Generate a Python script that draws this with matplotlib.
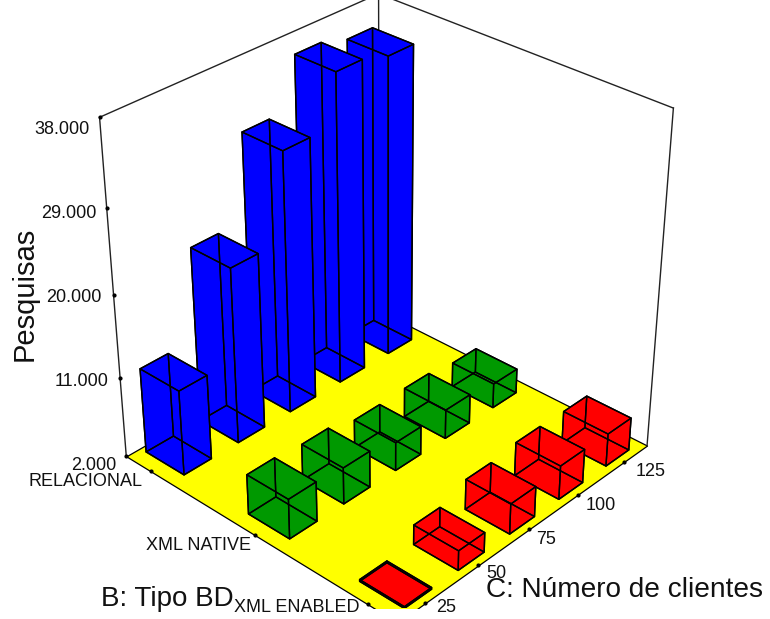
import numpy as np
import matplotlib
matplotlib.use("Agg")
import matplotlib.pyplot as plt
from mpl_toolkits.mplot3d.art3d import Poly3DCollection

plt.rcParams['font.family'] = ['Liberation Sans', 'DejaVu Sans']

# data
clientes = [25, 50, 75, 100, 125]
tipos = ['RELACIONAL', 'XML NATIVE', 'XML ENABLED']
relacional = [11500, 21500, 30800, 36200, 35300]
xml_native = [6450, 6100, 5200, 5300, 4800]
xml_enabled = [2200, 4200, 5400, 5800, 5700]
series = [relacional, xml_native, xml_enabled]
cores = ['#0000ff', '#009900', '#ff0000']
z_ticks = [2000, 11000, 20000, 29000, 38000]

# axis ranges
c0, c1 = 12.5, 137.5
b0, b1 = -0.25, 2.25
z0, z1 = 2000, 38000
bw_c, bw_b = 12.5, 0.38

fig = plt.figure(figsize=(7.70, 6.19), dpi=100)
ax = fig.add_axes([-0.0075, 0.018, 1, 1], projection='3d', computed_zorder=False)
ax.set_xlim(c0, c1, view_margin=0)
ax.set_ylim(b1, b0, view_margin=0)
ax.set_zlim(z0, z1, view_margin=0)
ax.set_box_aspect((1, 1, 1.03), zoom=1.06)
ax.set_proj_type('persp', focal_length=0.65)
ax.view_init(elev=32, azim=-137)
ax.set_axis_off()

# floor
floor = [[(c0, b0, z0), (c1, b0, z0), (c1, b1, z0), (c0, b1, z0)]]
ax.add_collection3d(Poly3DCollection(floor, facecolors='#ffff00', edgecolors='k',
                                     linewidths=0.9, zorder=1))

# frame
frame_k = dict(color='#222222', lw=1.0, zorder=2)
ax.plot([c0, c0], [b0, b0], [z0, z1], **frame_k)
ax.plot([c1, c1], [b0, b0], [z0, z1], **frame_k)
ax.plot([c1, c1], [b1, b1], [z0, z1], **frame_k)
ax.plot([c0, c1, c1], [b0, b0, b1], [z1, z1, z1], **frame_k)

# tick dots
ax.plot([c0] * len(z_ticks), [b0] * len(z_ticks), z_ticks, 'k.', ms=4, zorder=3)
ax.plot(clientes, [b1] * 5, [z0] * 5, 'k.', ms=4, zorder=3)
ax.plot([c0] * 3, [0, 1, 2], [z0] * 3, 'k.', ms=4, zorder=3)

# bars, back to front
z = 10
for b in range(3):
    for i in range(4, -1, -1):
        x = clientes[i] - bw_c / 2
        y = b - bw_b / 2
        dz = series[b][i] - z0
        ax.bar3d(x, y, z0, bw_c, bw_b, dz, color=cores[b], edgecolor=cores[b],
                 linewidth=0, shade=False, zorder=z)
        ax.bar3d(x, y, z0, bw_c, bw_b, dz, color=(0, 0, 0, 0), edgecolor='k',
                 linewidth=1.0, shade=False, zorder=z + 1)
        z += 2


def px_text(x, y, s, **kw):
    fig.text(x / 770, 1 - y / 619, s, color='#111111', **kw)


for val, x, y in zip(z_ticks, [116, 109, 102, 96, 90], [466, 382, 298, 214, 130]):
    px_text(x, y, f'{val / 1000:.3f}', fontsize=13, ha='right', va='center')
px_text(143, 482, tipos[0], fontsize=13, ha='right', va='center')
px_text(251, 545, tipos[1], fontsize=13, ha='right', va='center')
px_text(359, 608, tipos[2], fontsize=13, ha='right', va='center')
for c, x, y in zip(clientes, [446, 496, 546, 601, 651], [607, 574, 540, 506, 472]):
    px_text(x, y, str(c), fontsize=13, ha='center', va='center')
px_text(25, 294, 'Pesquisas', fontsize=21, rotation=90, ha='center', va='center')
px_text(101, 599, 'B: Tipo BD', fontsize=20, ha='left', va='center')
px_text(486, 590, 'C: Número de clientes', fontsize=20.2, ha='left', va='center')

fig.savefig('out.png', dpi=100)
